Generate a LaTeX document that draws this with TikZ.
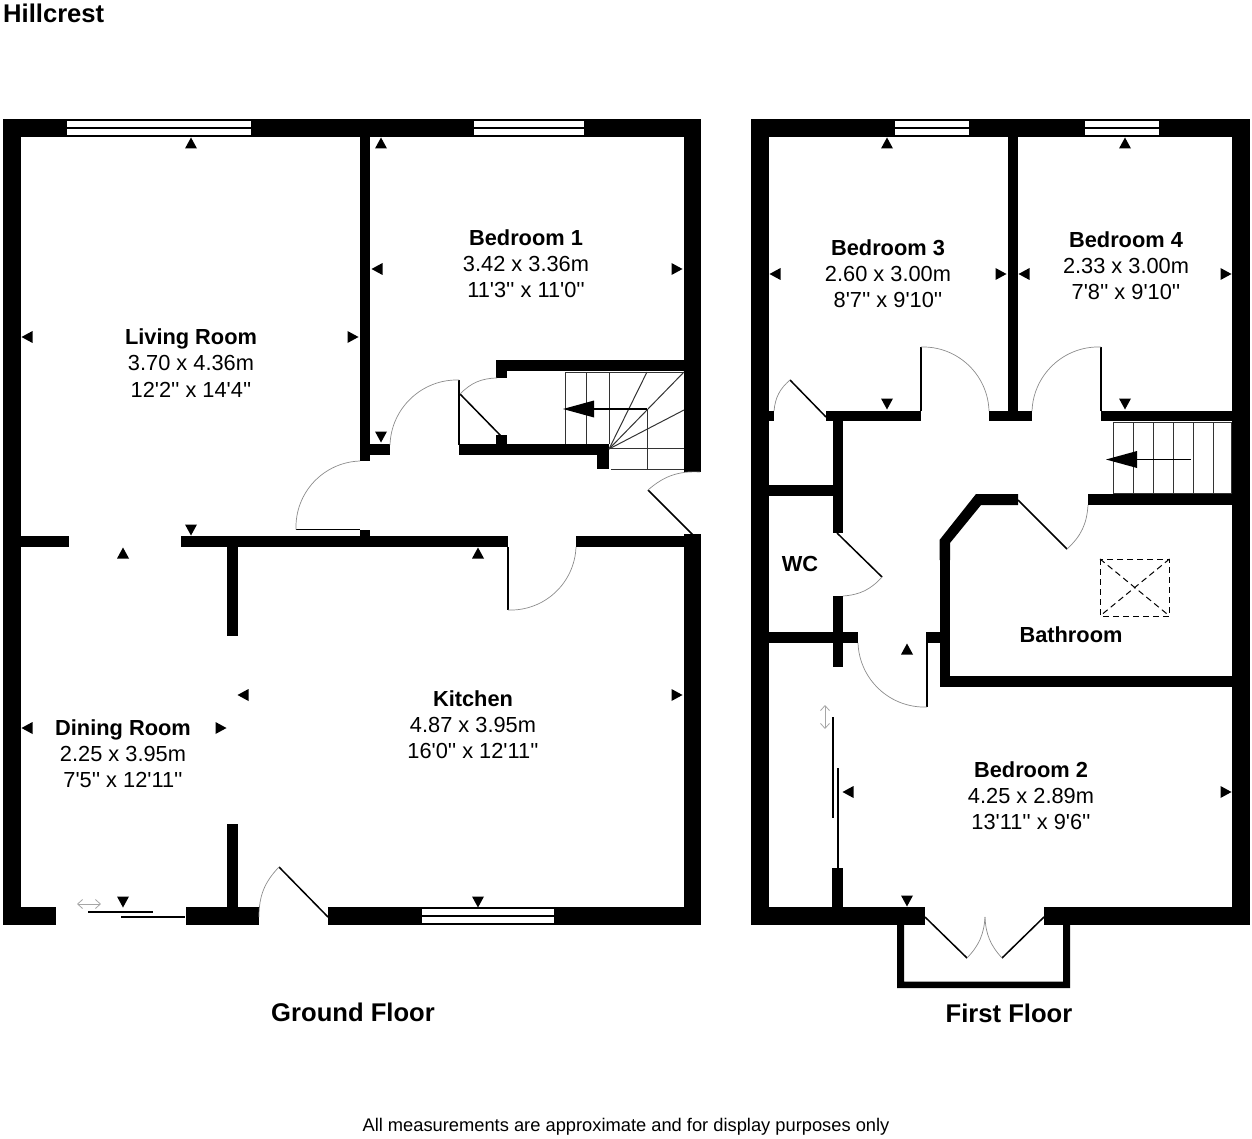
\documentclass[tikz,border=0pt]{standalone}
\usepackage{fontspec}
\usetikzlibrary{arrows.meta}
\newfontfamily\planfont{Liberation Sans}
\newcommand{\wallrect}[4]{\fill[wall] (#1,-#2) rectangle (#3,-#4);}
\newcommand{\glass}[4]{\fill[pane] (#1,-#2) rectangle (#3,-#2-6);\fill[pane] (#1,-#2-8) rectangle (#3,-#2-14);}
\newcommand{\marker}[3]{\fill[wall,shift={(#1,-#2)},rotate=#3] (5.5,0)--(-5.5,6)--(-5.5,-6)--cycle;}
\newcommand{\leafline}[4]{\draw[leaf] (#1,-#2)--(#3,-#4);}
\begin{document}
\begin{tikzpicture}[x=1pt,y=1pt,
  wall/.style={fill=black,draw=none},
  pane/.style={fill=white,draw=none},
  leaf/.style={draw=black,line width=1.5pt},
  swing/.style={draw=black!45,line width=.7pt},
  tread/.style={draw=black!80,line width=1pt},
  slide/.style={draw=black,line width=1.4pt},
  hint/.style={draw=black!35,line width=.8pt,{Straight Barb[length=5pt,width=9pt]}-{Straight Barb[length=5pt,width=9pt]}},
  skylight/.style={draw=black,line width=1pt,dash pattern=on 6pt off 4pt},
  roomtext/.style={font=\planfont\fontsize{21.8pt}{26.2pt}\selectfont,align=center,inner sep=0pt,text=black},
  roomtitle/.style={font=\planfont\bfseries\fontsize{21.8pt}{26.2pt}\selectfont,inner sep=0pt},
  floortitle/.style={font=\planfont\bfseries\fontsize{25.6pt}{30pt}\selectfont,inner sep=0pt},
  note/.style={font=\planfont\fontsize{18.3pt}{22pt}\selectfont,inner sep=0pt}]
\useasboundingbox (0,0) rectangle (1252,-1139);

% ---------- Ground floor walls
\wallrect{3}{119}{701}{137}
\wallrect{3}{119}{21}{925}
\wallrect{684}{119}{701}{472}
\wallrect{684}{534}{701}{925}
\wallrect{3}{907}{56}{925}
\wallrect{186}{907}{259}{925}
\wallrect{328}{907}{701}{925}
\wallrect{360}{137}{370}{461}
\wallrect{370}{444}{390}{455}
\wallrect{21}{536}{69}{547}
\wallrect{181}{536}{508}{547}
\wallrect{576}{536}{701}{547}
\wallrect{360}{530}{370}{536}
\wallrect{227}{547}{238}{636}
\wallrect{227}{824}{238}{907}
\wallrect{496}{360}{684}{371}
\wallrect{496}{371}{507}{378}
\wallrect{459}{444}{609}{455}
\wallrect{496}{435}{507}{444}
\wallrect{597}{455}{609}{469}
% windows
\glass{67}{121}{251}{135}
\glass{474}{121}{584}{135}
\glass{422}{909}{554}{923}

% ---------- Ground floor doors
\leafline{296}{529.5}{360}{529.5}
\draw[swing] (296,-529.5) to[bend left=45] (360,-461);
\leafline{459}{380}{459}{445}
\draw[swing] (459,-380) to[bend right=45] (390,-445);
\leafline{460}{394}{501}{436}
\draw[swing] (460,-394) to[bend left=22] (497,-378);
\leafline{648}{490}{693}{535}
\draw[swing] (648,-490) to[bend left=22] (700,-472);
\leafline{508}{547}{508}{610}
\draw[swing] (508,-610) to[bend right=45] (576,-547);
\leafline{279}{867}{328}{917}
\draw[swing] (279,-867) to[bend right=22] (259,-917);
% sliding door
\draw[slide] (88,-912)--(153,-912);
\draw[slide] (121,-917)--(185,-917);
\draw[hint] (77,-904)--(101,-904);

% ---------- Ground floor stairs
\draw[tread] (565,-372)--(565,-444);
\draw[tread] (586,-372)--(586,-444);
\draw[tread] (609,-372)--(609,-444);
\draw[tread] (565,-372)--(684,-372);
\draw[tread] (609,-448)--(684,-448);
\draw[tread] (647,-409)--(647,-469);
\draw[tread] (611,-469)--(684,-469);
\draw[tread] (609,-449)--(647,-372);
\draw[tread] (609,-449)--(684,-372);
\draw[tread] (609,-449)--(684,-410);
\draw[leaf] (647,-409)--(592,-409);
\fill[wall] (563,-409)--(594,-400.5)--(594,-417.5)--cycle;

% ---------- First floor walls
\wallrect{751}{119}{1250}{137}
\wallrect{751}{119}{769}{925}
\wallrect{1232}{119}{1250}{925}
\wallrect{751}{907}{925}{925}
\wallrect{1044}{907}{1250}{925}
\wallrect{1008}{137}{1018}{411}
\wallrect{769}{411}{774}{421}
\wallrect{826}{411}{921}{421}
\wallrect{989}{411}{1032}{421}
\wallrect{1101}{411}{1232}{421}
\wallrect{833}{421}{843}{533}
\wallrect{833}{596}{843}{667}
\wallrect{769}{485}{833}{496}
\wallrect{769}{632}{858}{643}
\wallrect{926}{632}{940}{643}
\wallrect{940}{540}{950}{687}
\wallrect{940}{676}{1232}{687}
\fill[wall] (939.5,-540)--(976,-494)--(1018,-494)--(1018,-505)--(981,-505)--(950,-543)--(950,-560)--(939.5,-560)--cycle;
\wallrect{1088}{494}{1232}{505}
\wallrect{832}{868}{843}{907}
\fill[wall] (897,-925)--(904,-925)--(904,-981.5)--(1063,-981.5)--(1063,-925)--(1070,-925)--(1070,-988)--(897,-988)--cycle;
\glass{895}{121}{969}{135}
\glass{1085}{121}{1159}{135}

% ---------- First floor doors
\leafline{826}{417}{790}{380}
\draw[swing] (790,-380) to[bend right=22] (774,-411);
\leafline{921}{347}{921}{411}
\draw[swing] (921,-347) to[bend left=45] (989,-411);
\leafline{1101}{347}{1101}{411}
\draw[swing] (1101,-347) to[bend right=45] (1032,-411);
\leafline{1018}{500}{1067}{549}
\draw[swing] (1067,-549) to[bend right=22] (1088,-505);
\leafline{837}{533}{882}{577}
\draw[swing] (882,-577) to[bend left=22] (843,-596);
\leafline{927}{643}{927}{707}
\draw[swing] (927,-707) to[bend left=45] (858,-643);
\leafline{925}{917}{967}{958}
\draw[swing] (967,-958) to[bend right=20] (985,-917);
\leafline{1044}{917}{1002}{958}
\draw[swing] (1002,-958) to[bend left=20] (985,-917);
% sliding door
\draw[slide] (833,-717)--(833,-818);
\draw[slide] (838,-768)--(838,-868);
\draw[hint] (825,-705)--(825,-729);

% ---------- First floor stairs
\draw[tread] (1113,-422)--(1231,-422)--(1231,-493)--(1113,-493)--cycle;
\draw[tread] (1133,-422)--(1133,-493);
\draw[tread] (1153,-422)--(1153,-493);
\draw[tread] (1173,-422)--(1173,-493);
\draw[tread] (1193,-422)--(1193,-493);
\draw[tread] (1213,-422)--(1213,-493);
\draw[leaf] (1191,-459.5)--(1135,-459.5);
\fill[wall] (1106,-459.5)--(1137,-451)--(1137,-468)--cycle;

% ---------- Skylight
\draw[skylight] (1100,-559) rectangle (1169.5,-616);
\draw[skylight] (1100,-559)--(1169.5,-616);
\draw[skylight] (1169.5,-559)--(1100,-616);

% ---------- Dimension markers
\marker{191}{143}{90}\marker{191}{530}{270}\marker{27}{337}{180}\marker{353}{337}{0}
\marker{381}{143}{90}\marker{381}{437}{270}\marker{377}{269}{180}\marker{677}{269}{0}
\marker{478}{553}{90}\marker{478}{902}{270}\marker{243}{695}{180}\marker{677}{695}{0}
\marker{123}{553}{90}\marker{123}{902}{270}\marker{27}{728}{180}\marker{221}{728}{0}
\marker{887}{143}{90}\marker{887}{404}{270}\marker{775}{274}{180}\marker{1001}{274}{0}
\marker{1125}{143}{90}\marker{1125}{404}{270}\marker{1024}{274}{180}\marker{1226}{274}{0}
\marker{907}{649}{90}\marker{907}{901}{270}\marker{848}{792}{180}\marker{1226}{792}{0}

% ---------- Text
\node[floortitle,anchor=west] (hillcrest) at (3,-13) {Hillcrest};
\node[roomtext] (living) at (191,-363) {\textbf{Living Room}\\3.70 x 4.36m\\12'2'' x 14'4''};
\node[roomtext] (bed1) at (526,-263.5) {\textbf{Bedroom 1}\\3.42 x 3.36m\\11'3'' x 11'0''};
\node[roomtext] (kitchen) at (473,-725) {\textbf{Kitchen}\\4.87 x 3.95m\\16'0'' x 12'11''};
\node[roomtext] (dining) at (123,-754) {\textbf{Dining Room}\\2.25 x 3.95m\\7'5'' x 12'11''};
\node[roomtext] (bed3) at (888,-274) {\textbf{Bedroom 3}\\2.60 x 3.00m\\8'7'' x 9'10''};
\node[roomtext] (bed4) at (1126,-266) {\textbf{Bedroom 4}\\2.33 x 3.00m\\7'8'' x 9'10''};
\node[roomtext] (bed2) at (1031,-796) {\textbf{Bedroom 2}\\4.25 x 2.89m\\13'11'' x 9'6''};
\node[roomtitle] (wc) at (800,-564) {WC};
\node[roomtitle] (bath) at (1071,-635) {Bathroom};
\node[floortitle] (ground) at (353,-1012) {Ground Floor};
\node[floortitle] (first) at (1009,-1013) {First Floor};
\node[note] (disclaimer) at (626,-1127) {All measurements are approximate and for display purposes only};
\end{tikzpicture}
\end{document}
